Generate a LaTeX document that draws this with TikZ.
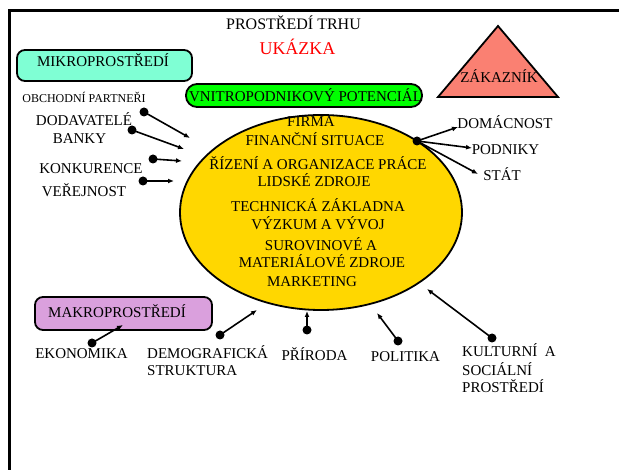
\documentclass[tikz,border=0pt]{standalone}
\usepackage{fontspec}
\setmainfont{Liberation Serif}
\usetikzlibrary{arrows.meta,shapes.geometric}

\definecolor{aquabox}{RGB}{127,255,212}
\definecolor{greenbox}{RGB}{0,255,0}
\definecolor{goldfill}{RGB}{255,215,0}
\definecolor{salmonfill}{RGB}{250,128,114}
\definecolor{plumbox}{RGB}{218,160,221}
\definecolor{redtext}{RGB}{255,0,0}

\tikzset{
  lbl/.style={inner sep=0pt, anchor=base, font=\fontsize{15}{18}\selectfont},
  lblw/.style={lbl, anchor=base west},
  small/.style={inner sep=0pt, anchor=base, font=\fontsize{12}{14}\selectfont},
  roundbox/.style={draw=black, line width=1.8pt, rounded corners=8pt},
  dotnode/.style={circle, fill=black, inner sep=0pt, minimum size=9pt},
  conn/.style={line width=1.6pt, -{Latex[length=6pt,width=5pt]}},
}

\begin{document}
\begin{tikzpicture}[x=1pt,y=-1pt]
\useasboundingbox (0,0) rectangle (619,470);

% page frame (top and left edges)
\draw[line width=2.6pt] (619,10.5) -- (9.5,10.5) -- (9.5,470);

% titles
\node[inner sep=0pt, anchor=base, font=\fontsize{16}{19}\selectfont] (title) at (293.5,29.5) {PROSTŘEDÍ TRHU};
\node[inner sep=0pt, anchor=base, font=\fontsize{18}{21}\selectfont, text=redtext] (sample) at (297.5,55) {UKÁZKA};

% micro-environment box
\draw[roundbox, fill=aquabox] (17,50) rectangle (192,81);
\node[lbl] (mikro) at (103,67) {MIKROPROSTŘEDÍ};

% customer triangle
\draw[line width=1.8pt, fill=salmonfill, line join=miter] (498,26) -- (558,97) -- (438,97) -- cycle;
\node[lbl] (zakaznik) at (499,83) {ZÁKAZNÍK};

% firm ellipse
\node[ellipse, draw=black, line width=1.8pt, fill=goldfill, minimum width=282pt, minimum height=195pt, inner sep=0pt] (firma) at (321,212.5) {};

% internal potential box
\draw[draw=black, line width=1.8pt, fill=greenbox, rounded corners=11pt] (186,84) rectangle (422,107);
\node[lbl] (vnitro) at (305.5,102) {VNITROPODNIKOVÝ POTENCIÁL};

% ellipse contents
\node[lbl] (f1) at (311,127) {FIRMA};
\node[lbl] (f2) at (315,146) {FINANČNÍ SITUACE};
\node[lbl] (f3) at (318,170) {ŘÍZENÍ A ORGANIZACE PRÁCE};
\node[lbl] (f4) at (314,187) {LIDSKÉ ZDROJE};
\node[lbl] (f5) at (318,212) {TECHNICKÁ ZÁKLADNA};
\node[lbl] (f6) at (318,230) {VÝZKUM A VÝVOJ};
\node[lbl] (f7) at (321,251) {SUROVINOVÉ A};
\node[lbl] (f8) at (322,268) {MATERIÁLOVÉ ZDROJE};
\node[lbl] (f9) at (312,287) {MARKETING};

% micro-environment actors
\node[small] (obch) at (84,103) {OBCHODNÍ PARTNEŘI};
\node[lbl] (dod) at (84,126) {DODAVATELÉ};
\node[lbl] (banky) at (79.5,144) {BANKY};
\node[lbl] (konk) at (91,174) {KONKURENCE};
\node[lbl] (verej) at (84,197) {VEŘEJNOST};

\node[dotnode] (d1) at (144,112) {};
\node[dotnode] (d2) at (132,130) {};
\node[dotnode] (d3) at (153,159) {};
\node[dotnode] (d4) at (143,181) {};
\coordinate (t1) at (190,138);
\coordinate (t2) at (184,149);
\coordinate (t3) at (182,161);
\coordinate (t4) at (174,181);
\draw[conn] (d1.center) -- (t1);
\draw[conn] (d2.center) -- (t2);
\draw[conn] (d3.center) -- (t3);
\draw[conn] (d4.center) -- (t4);

% customers
\node[dotnode] (dr) at (417,141) {};
\node[lbl] (domac) at (505,129) {DOMÁCNOST};
\node[lbl] (podn) at (505.5,155) {PODNIKY};
\node[lbl] (stat) at (502,181) {STÁT};
\coordinate (r1) at (458,127);
\coordinate (r2) at (472,148);
\coordinate (r3) at (478,174);
\draw[conn] (dr.center) -- (r1);
\draw[conn] (dr.center) -- (r2);
\draw[conn] (dr.center) -- (r3);

% macro-environment box
\draw[roundbox, fill=plumbox] (35,297) rectangle (212,330);
\node[lbl] (makro) at (117,318) {MAKROPROSTŘEDÍ};

% macro-environment factors
\node[lbl] (ekon) at (81.5,359) {EKONOMIKA};
\node[lblw] (demo1) at (147,359) {DEMOGRAFICKÁ};
\node[lblw] (demo2) at (147,376) {STRUKTURA};
\node[lbl] (prir) at (314.5,361) {PŘÍRODA};
\node[lbl] (polit) at (405.5,362) {POLITIKA};
\node[lblw] (kult1) at (462,357) {KULTURNÍ\ \ A};
\node[lblw] (kult2) at (462,376) {SOCIÁLNÍ};
\node[lblw] (kult3) at (462,393) {PROSTŘEDÍ};

\node[dotnode] (b1) at (92,343) {};
\node[dotnode] (b2) at (220,335) {};
\node[dotnode] (b3) at (307,330) {};
\node[dotnode] (b4) at (398,341) {};
\node[dotnode] (b5) at (492,338) {};
\coordinate (u1) at (123,325);
\coordinate (u2) at (257,310);
\coordinate (u3) at (307,311);
\coordinate (u4) at (377,313);
\coordinate (u5) at (427,289);
\draw[conn] (b1.center) -- (u1);
\draw[conn] (b2.center) -- (u2);
\draw[conn] (b3.center) -- (u3);
\draw[conn] (b4.center) -- (u4);
\draw[conn] (b5.center) -- (u5);
\end{tikzpicture}
\end{document}
